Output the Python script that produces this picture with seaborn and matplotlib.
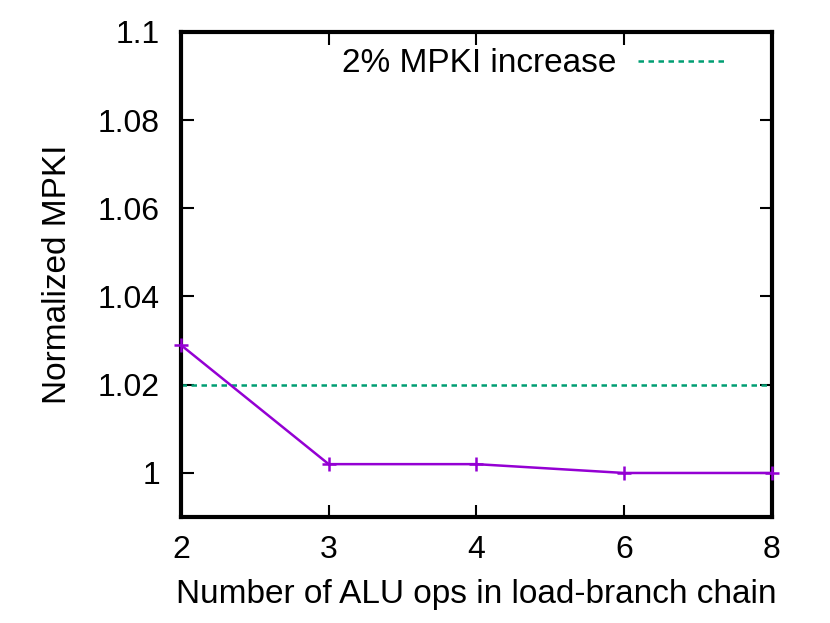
import matplotlib
matplotlib.use("Agg")
import matplotlib.pyplot as plt
import seaborn as sns
import pandas as pd

categories = ["2", "3", "4", "6", "8"]
mpki = [1.029, 1.002, 1.002, 1.000, 1.000]
threshold = 1.02
yticks = [1, 1.02, 1.04, 1.06, 1.08, 1.1]
ytick_labels = ["1", "1.02", "1.04", "1.06", "1.08", "1.1"]

sns.set_theme(style="ticks")
plt.rcParams['font.family'] = ['Liberation Sans', 'DejaVu Sans']
plt.rcParams['text.color'] = 'black'
plt.rcParams['axes.labelcolor'] = 'black'

df = pd.DataFrame({"ops": categories, "mpki": mpki})
df["pos"] = range(len(categories))

fig = plt.figure(figsize=(8.3, 6.23), dpi=100)
ax = fig.add_axes([0.218, 0.170, 0.712, 0.779])

ax.axhline(threshold, color="#009E73", lw=1.8, ls=(0, (2.2, 1.8)), label="2% MPKI increase", zorder=1)
sns.lineplot(data=df, x="pos", y="mpki", ax=ax, color="#9400D3", lw=1.8,
             marker="+", markersize=10, markeredgewidth=1.8,
             markeredgecolor="#9400D3", legend=False, zorder=3, clip_on=False)

ax.set_xlim(0, len(categories) - 1)
ax.set_ylim(0.99, 1.1)
ax.set_xticks(range(len(categories)))
ax.set_xticklabels(categories)
ax.set_yticks(yticks)
ax.set_yticklabels(ytick_labels)

for s in ax.spines.values():
    s.set_linewidth(3)
    s.set_color("black")
ax.tick_params(direction="in", length=9, width=1.5, labelsize=23,
               top=True, right=True, colors="black")
ax.tick_params(axis="x", pad=13)
ax.tick_params(axis="y", pad=15)
ax.set_xlabel("Number of ALU ops in load-branch chain", fontsize=24, labelpad=10)
ax.set_ylabel("Normalized MPKI", fontsize=24, labelpad=18)

leg = ax.legend(loc="center right", frameon=False, markerfirst=False, fontsize=24,
                handlelength=2.64, handletextpad=0.63, borderpad=0, borderaxespad=0,
                bbox_to_anchor=(0.922, 0.934))

fig.savefig("out.png", dpi=100)
